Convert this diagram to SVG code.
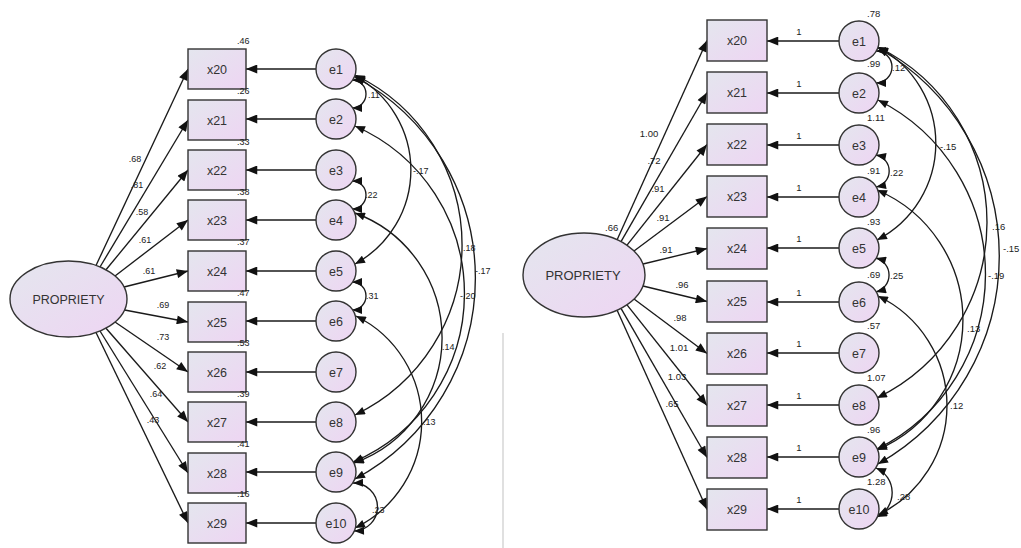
<svg xmlns="http://www.w3.org/2000/svg" width="1021" height="548" viewBox="0 0 1021 548">
<style>
.nd{fill:url(#g);stroke:#333;stroke-width:1.4}
.lb{font-family:"Liberation Sans",Arial,sans-serif;font-size:12.5px;fill:#333;text-anchor:middle}
.n{font-family:"Liberation Sans",Arial,sans-serif;font-size:9px;fill:#222}
.nr{font-family:"Liberation Sans",Arial,sans-serif;font-size:9.5px;fill:#222}
.m{text-anchor:middle}
.p{fill:none;stroke:#1a1a1a;stroke-width:1.35}
.a{marker-end:url(#ah)}
.cv{marker-start:url(#ch);marker-end:url(#ch)}
</style>
<defs>
<linearGradient id="g" x1="0" y1="0" x2="1" y2="1">
<stop offset="0" stop-color="#e4e6ee"/>
<stop offset="1" stop-color="#eed5f3"/>
</linearGradient>
<marker id="ah" viewBox="0 0 10 8" refX="10" refY="4" markerWidth="13" markerHeight="9" markerUnits="userSpaceOnUse" orient="auto"><path d="M0,0 L10,4 L0,8 z" fill="#111"/></marker>
<marker id="ch" viewBox="0 0 10 8" refX="10" refY="4" markerWidth="11" markerHeight="8" markerUnits="userSpaceOnUse" orient="auto-start-reverse"><path d="M0,0 L10,4 L0,8 z" fill="#111"/></marker>
</defs>
<rect width="1021" height="548" fill="#fff"/>
<line x1="503" y1="333" x2="503" y2="548" stroke="#d6d6d6" stroke-width="1.5"/>

<!-- LEFT connectors -->
<g id="connectors-left">
<line class="p a" x1="96" y1="265.5" x2="188" y2="69"/>
<line class="p a" x1="100" y1="267" x2="188" y2="120"/>
<line class="p a" x1="106" y1="269.8" x2="188" y2="170"/>
<line class="p a" x1="115" y1="276" x2="188" y2="220"/>
<line class="p a" x1="124" y1="287" x2="188" y2="271"/>
<line class="p a" x1="124.6" y1="310" x2="188" y2="322"/>
<line class="p a" x1="115" y1="322" x2="188" y2="372"/>
<line class="p a" x1="106" y1="328.2" x2="188" y2="422"/>
<line class="p a" x1="100" y1="331" x2="188" y2="473"/>
<line class="p a" x1="96" y1="332.5" x2="188" y2="523"/>
<line class="p a" x1="316" y1="69" x2="246" y2="69"/>
<line class="p a" x1="316" y1="119" x2="246" y2="119"/>
<line class="p a" x1="316" y1="170" x2="246" y2="170"/>
<line class="p a" x1="316" y1="220" x2="246" y2="220"/>
<line class="p a" x1="316" y1="271" x2="246" y2="271"/>
<line class="p a" x1="316" y1="321" x2="246" y2="321"/>
<line class="p a" x1="316" y1="372" x2="246" y2="372"/>
<line class="p a" x1="316" y1="422" x2="246" y2="422"/>
<line class="p a" x1="316" y1="472" x2="246" y2="472"/>
<line class="p a" x1="316" y1="523" x2="246" y2="523"/>
<path class="p cv" d="M352,80 A14,14 0 0 1 352,108"/>
<path class="p cv" d="M352,181 A14,14 0 0 1 352,209"/>
<path class="p cv" d="M352,282 A14,14 0 0 1 352,310"/>
<path class="p cv" d="M353,483 A24,24 0 0 1 354,531"/>
<path class="p cv" d="M355,76 A107,107 0 0 1 355,264"/>
<path class="p cv" d="M355,75 A188.5,188.5 0 0 1 355,415"/>
<path class="p cv" d="M355,77 A228,228 0 0 1 355,479"/>
<path class="p cv" d="M355,126 A183,183 0 0 1 353,462"/>
<path class="p cv" d="M355,213 A133,133 0 0 1 354,463"/>
<path class="p cv" d="M356,316 A118,118 0 0 1 355,528"/>
</g>

<!-- LEFT nodes -->
<g id="L-PROPRIETY"><ellipse class="nd" cx="68.5" cy="299" rx="58.5" ry="38"/><text class="lb" x="68.5" y="303.5">PROPRIETY</text></g>
<g id="L-x20"><rect class="nd" x="188" y="49" width="58" height="40"/><text class="lb" x="217" y="73.5">x20</text></g>
<g id="L-x21"><rect class="nd" x="188" y="100" width="58" height="40"/><text class="lb" x="217" y="124.5">x21</text></g>
<g id="L-x22"><rect class="nd" x="188" y="150" width="58" height="40"/><text class="lb" x="217" y="174.5">x22</text></g>
<g id="L-x23"><rect class="nd" x="188" y="200" width="58" height="40"/><text class="lb" x="217" y="224.5">x23</text></g>
<g id="L-x24"><rect class="nd" x="188" y="251" width="58" height="40"/><text class="lb" x="217" y="275.5">x24</text></g>
<g id="L-x25"><rect class="nd" x="188" y="302" width="58" height="40"/><text class="lb" x="217" y="326.5">x25</text></g>
<g id="L-x26"><rect class="nd" x="188" y="352" width="58" height="40"/><text class="lb" x="217" y="376.5">x26</text></g>
<g id="L-x27"><rect class="nd" x="188" y="402" width="58" height="40"/><text class="lb" x="217" y="426.5">x27</text></g>
<g id="L-x28"><rect class="nd" x="188" y="453" width="58" height="40"/><text class="lb" x="217" y="477.5">x28</text></g>
<g id="L-x29"><rect class="nd" x="188" y="503" width="58" height="40"/><text class="lb" x="217" y="527.5">x29</text></g>
<g id="L-e1"><circle class="nd" cx="336" cy="69" r="20"/><text class="lb" x="336" y="73.5">e1</text></g>
<g id="L-e2"><circle class="nd" cx="336" cy="119" r="20"/><text class="lb" x="336" y="123.5">e2</text></g>
<g id="L-e3"><circle class="nd" cx="336" cy="170" r="20"/><text class="lb" x="336" y="174.5">e3</text></g>
<g id="L-e4"><circle class="nd" cx="336" cy="220" r="20"/><text class="lb" x="336" y="224.5">e4</text></g>
<g id="L-e5"><circle class="nd" cx="336" cy="271" r="20"/><text class="lb" x="336" y="275.5">e5</text></g>
<g id="L-e6"><circle class="nd" cx="336" cy="321" r="20"/><text class="lb" x="336" y="325.5">e6</text></g>
<g id="L-e7"><circle class="nd" cx="336" cy="372" r="20"/><text class="lb" x="336" y="376.5">e7</text></g>
<g id="L-e8"><circle class="nd" cx="336" cy="422" r="20"/><text class="lb" x="336" y="426.5">e8</text></g>
<g id="L-e9"><circle class="nd" cx="336" cy="472" r="20"/><text class="lb" x="336" y="476.5">e9</text></g>
<g id="L-e10"><circle class="nd" cx="336" cy="523" r="20"/><text class="lb" x="336" y="527.5">e10</text></g>

<!-- LEFT labels -->
<g id="L-labels">
<text class="n" x="237" y="44">.46</text>
<text class="n" x="237" y="94">.26</text>
<text class="n" x="237" y="145">.33</text>
<text class="n" x="237" y="195">.38</text>
<text class="n" x="237" y="245">.37</text>
<text class="n" x="237" y="296">.47</text>
<text class="n" x="237" y="346">.53</text>
<text class="n" x="237" y="397">.39</text>
<text class="n" x="237" y="447">.41</text>
<text class="n" x="237" y="497">.16</text>
<text class="n m" x="135" y="162">.68</text>
<text class="n m" x="137" y="188">.81</text>
<text class="n m" x="142" y="215">.58</text>
<text class="n m" x="145" y="243">.61</text>
<text class="n m" x="149" y="274">.61</text>
<text class="n m" x="163" y="308">.69</text>
<text class="n m" x="163" y="340">.73</text>
<text class="n m" x="160" y="369">.62</text>
<text class="n m" x="156" y="397">.64</text>
<text class="n m" x="153" y="423">.43</text>
<text class="n" x="368" y="98">.11</text>
<text class="n" x="365" y="198">.22</text>
<text class="n" x="413" y="174">-.17</text>
<text class="n" x="463" y="251">.18</text>
<text class="n" x="475" y="274">-.17</text>
<text class="n" x="366" y="299">.31</text>
<text class="n" x="460" y="299">-.20</text>
<text class="n" x="442" y="350">.14</text>
<text class="n" x="423" y="425">.13</text>
<text class="n" x="372" y="513">.23</text>
</g>

<!-- RIGHT connectors -->
<g id="connectors-right">
<line class="p a" x1="617" y1="240" x2="707" y2="40.5"/>
<line class="p a" x1="621" y1="241.6" x2="707" y2="92.5"/>
<line class="p a" x1="627" y1="245.2" x2="707" y2="144.5"/>
<line class="p a" x1="634" y1="251" x2="707" y2="196.5"/>
<line class="p a" x1="643" y1="264" x2="707" y2="248.5"/>
<line class="p a" x1="643" y1="286" x2="707" y2="301.5"/>
<line class="p a" x1="634" y1="299" x2="707" y2="353.5"/>
<line class="p a" x1="627" y1="304.8" x2="707" y2="405.5"/>
<line class="p a" x1="621" y1="308.4" x2="707" y2="457.5"/>
<line class="p a" x1="617" y1="310" x2="707" y2="509.5"/>
<line class="p a" x1="839" y1="41" x2="767" y2="41"/>
<line class="p a" x1="839" y1="93" x2="767" y2="93"/>
<line class="p a" x1="839" y1="145" x2="767" y2="145"/>
<line class="p a" x1="839" y1="197" x2="767" y2="197"/>
<line class="p a" x1="839" y1="248" x2="767" y2="248"/>
<line class="p a" x1="839" y1="302" x2="767" y2="302"/>
<line class="p a" x1="839" y1="353" x2="767" y2="353"/>
<line class="p a" x1="839" y1="405" x2="767" y2="405"/>
<line class="p a" x1="839" y1="457" x2="767" y2="457"/>
<line class="p a" x1="839" y1="509" x2="767" y2="509"/>
<path class="p cv" d="M876,51 A16,16 0 0 1 876,83"/>
<path class="p cv" d="M876,155 A16.3,16.3 0 0 1 876,187"/>
<path class="p cv" d="M876,258 A17.6,17.6 0 0 1 876,292"/>
<path class="p cv" d="M876,468 A27,27 0 0 1 877,517"/>
<path class="p cv" d="M878,47 A109,109 0 0 1 877,240"/>
<path class="p cv" d="M878,47 A195.4,195.4 0 0 1 877,398"/>
<path class="p cv" d="M878,48 A239,239 0 0 1 878,464"/>
<path class="p cv" d="M878,100 A195,195 0 0 1 877,449"/>
<path class="p cv" d="M877,190 A141.3,141.3 0 0 1 877,450"/>
<path class="p cv" d="M878,296 A121.4,121.4 0 0 1 878,515"/>
</g>

<!-- RIGHT nodes -->
<g id="R-PROPRIETY"><ellipse class="nd" cx="584" cy="275" rx="61" ry="42"/><text class="lb" x="583" y="279.5" style="font-size:13px">PROPRIETY</text></g>
<g id="R-x20"><rect class="nd" x="707" y="20" width="60" height="41"/><text class="lb" x="737" y="45">x20</text></g>
<g id="R-x21"><rect class="nd" x="707" y="72" width="60" height="41"/><text class="lb" x="737" y="97">x21</text></g>
<g id="R-x22"><rect class="nd" x="707" y="124" width="60" height="41"/><text class="lb" x="737" y="149">x22</text></g>
<g id="R-x23"><rect class="nd" x="707" y="176" width="60" height="41"/><text class="lb" x="737" y="201">x23</text></g>
<g id="R-x24"><rect class="nd" x="707" y="228" width="60" height="41"/><text class="lb" x="737" y="253">x24</text></g>
<g id="R-x25"><rect class="nd" x="707" y="281" width="60" height="41"/><text class="lb" x="737" y="306">x25</text></g>
<g id="R-x26"><rect class="nd" x="707" y="333" width="60" height="41"/><text class="lb" x="737" y="358">x26</text></g>
<g id="R-x27"><rect class="nd" x="707" y="385" width="60" height="41"/><text class="lb" x="737" y="410">x27</text></g>
<g id="R-x28"><rect class="nd" x="707" y="437" width="60" height="41"/><text class="lb" x="737" y="462">x28</text></g>
<g id="R-x29"><rect class="nd" x="707" y="489" width="60" height="41"/><text class="lb" x="737" y="514">x29</text></g>
<g id="R-e1"><circle class="nd" cx="859" cy="41" r="20"/><text class="lb" x="859" y="45.5">e1</text></g>
<g id="R-e2"><circle class="nd" cx="859" cy="93" r="20"/><text class="lb" x="859" y="97.5">e2</text></g>
<g id="R-e3"><circle class="nd" cx="859" cy="145" r="20"/><text class="lb" x="859" y="149.5">e3</text></g>
<g id="R-e4"><circle class="nd" cx="859" cy="197" r="20"/><text class="lb" x="859" y="201.5">e4</text></g>
<g id="R-e5"><circle class="nd" cx="859" cy="248" r="20"/><text class="lb" x="859" y="252.5">e5</text></g>
<g id="R-e6"><circle class="nd" cx="859" cy="302" r="20"/><text class="lb" x="859" y="306.5">e6</text></g>
<g id="R-e7"><circle class="nd" cx="859" cy="353" r="20"/><text class="lb" x="859" y="357.5">e7</text></g>
<g id="R-e8"><circle class="nd" cx="859" cy="405" r="20"/><text class="lb" x="859" y="409.5">e8</text></g>
<g id="R-e9"><circle class="nd" cx="859" cy="457" r="20"/><text class="lb" x="859" y="461.5">e9</text></g>
<g id="R-e10"><circle class="nd" cx="859" cy="509" r="20"/><text class="lb" x="859" y="513.5">e10</text></g>

<!-- RIGHT labels -->
<g id="R-labels">
<text class="nr" x="605" y="231">.66</text>
<text class="nr m" x="649" y="136.5">1.00</text>
<text class="nr m" x="654" y="163.5">.72</text>
<text class="nr m" x="658" y="191.5">.91</text>
<text class="nr m" x="663" y="220.5">.91</text>
<text class="nr m" x="666" y="252.5">.91</text>
<text class="nr m" x="682" y="287.5">.96</text>
<text class="nr m" x="680" y="320.5">.98</text>
<text class="nr m" x="679" y="350.5">1.01</text>
<text class="nr m" x="677" y="379.5">1.03</text>
<text class="nr m" x="672" y="406.5">.65</text>
<text class="nr m" x="799" y="35">1</text>
<text class="nr m" x="799" y="87">1</text>
<text class="nr m" x="799" y="139">1</text>
<text class="nr m" x="799" y="191">1</text>
<text class="nr m" x="799" y="242">1</text>
<text class="nr m" x="799" y="296">1</text>
<text class="nr m" x="799" y="347">1</text>
<text class="nr m" x="799" y="399">1</text>
<text class="nr m" x="799" y="451">1</text>
<text class="nr m" x="799" y="503">1</text>
<text class="nr" x="867" y="16.5">.78</text>
<text class="nr" x="867" y="67">.99</text>
<text class="nr" x="867" y="121">1.11</text>
<text class="nr" x="867" y="173.5">.91</text>
<text class="nr" x="867" y="224.5">.93</text>
<text class="nr" x="867" y="277.5">.69</text>
<text class="nr" x="867" y="328.5">.57</text>
<text class="nr" x="867" y="380.5">1.07</text>
<text class="nr" x="867" y="432.5">.96</text>
<text class="nr" x="867" y="484.5">1.28</text>
<text class="nr" x="892" y="70.5">.12</text>
<text class="nr" x="890" y="175.5">.22</text>
<text class="nr" x="940" y="149.5">-.15</text>
<text class="nr" x="992" y="229.5">.16</text>
<text class="nr" x="1003" y="251.5">-.15</text>
<text class="nr" x="988" y="278.5">-.19</text>
<text class="nr" x="890" y="278.5">.25</text>
<text class="nr" x="967" y="331.5">.13</text>
<text class="nr" x="950" y="408.5">.12</text>
<text class="nr" x="897" y="499.5">.28</text>
</g>
</svg>
